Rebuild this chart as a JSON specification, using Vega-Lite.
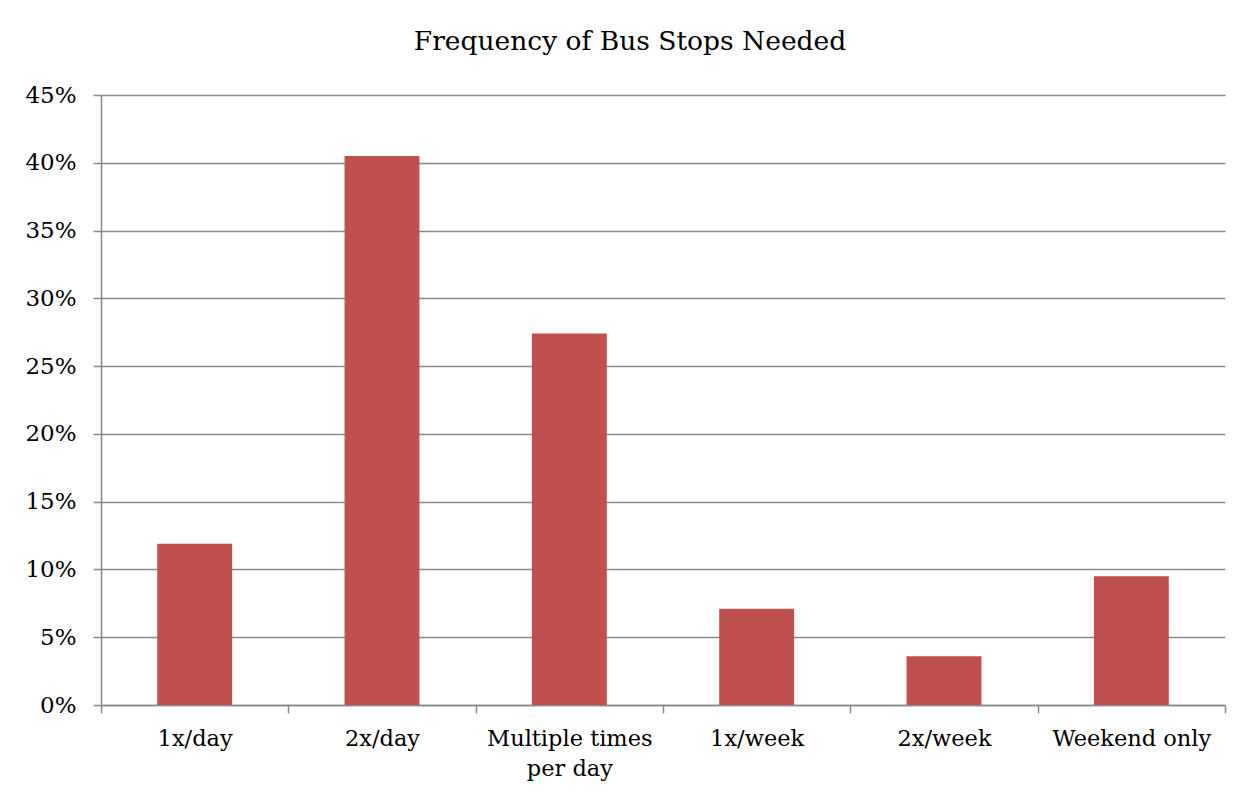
{
  "$schema": "https://vega.github.io/schema/vega-lite/v6.json",
  "autosize": {"type": "none"},
  "width": 1124,
  "height": 610,
  "padding": {"left": 101, "top": 95, "right": 28, "bottom": 91},
  "background": "white",
  "title": {
    "text": "Frequency of Bus Stops Needed",
    "font": "DejaVu Serif",
    "fontSize": 26.5,
    "fontWeight": "normal",
    "color": "#000000",
    "anchor": "middle",
    "dx": -33,
    "offset": 29
  },
  "data": {
    "values": [
      {"freq": "1x/day", "pct": 0.119},
      {"freq": "2x/day", "pct": 0.405},
      {"freq": "Multiple times per day", "pct": 0.274},
      {"freq": "1x/week", "pct": 0.071},
      {"freq": "2x/week", "pct": 0.036},
      {"freq": "Weekend only", "pct": 0.095}
    ]
  },
  "mark": {"type": "bar", "color": "#C0504D", "width": {"band": 0.4}},
  "encoding": {
    "x": {
      "field": "freq",
      "type": "nominal",
      "sort": null,
      "scale": {"paddingInner": 0, "paddingOuter": 0},
      "axis": {
        "title": null,
        "labelAngle": 0,
        "labelFont": "DejaVu Serif",
        "labelFontSize": 22.5,
        "labelColor": "#000000",
        "labelPadding": 14,
        "labelLineHeight": 30,
        "labelExpr": "datum.label == 'Multiple times per day' ? ['Multiple times', 'per day'] : datum.label",
        "tickBand": "extent",
        "tickSize": 8,
        "tickColor": "#888888",
        "tickWidth": 1.5,
        "domainColor": "#888888",
        "domainWidth": 1.5,
        "grid": false
      }
    },
    "y": {
      "field": "pct",
      "type": "quantitative",
      "scale": {"domain": [0, 0.45], "nice": false},
      "axis": {
        "title": null,
        "format": ".0%",
        "values": [0, 0.05, 0.1, 0.15, 0.2, 0.25, 0.3, 0.35, 0.4, 0.45],
        "labelFont": "DejaVu Serif",
        "labelFontSize": 23,
        "labelColor": "#000000",
        "labelPadding": 17,
        "tickSize": 8,
        "tickColor": "#888888",
        "tickWidth": 1.5,
        "domainColor": "#888888",
        "domainWidth": 1.5,
        "grid": true,
        "gridColor": "#888888",
        "gridWidth": 1.5
      }
    }
  },
  "config": {"view": {"stroke": null}}
}
